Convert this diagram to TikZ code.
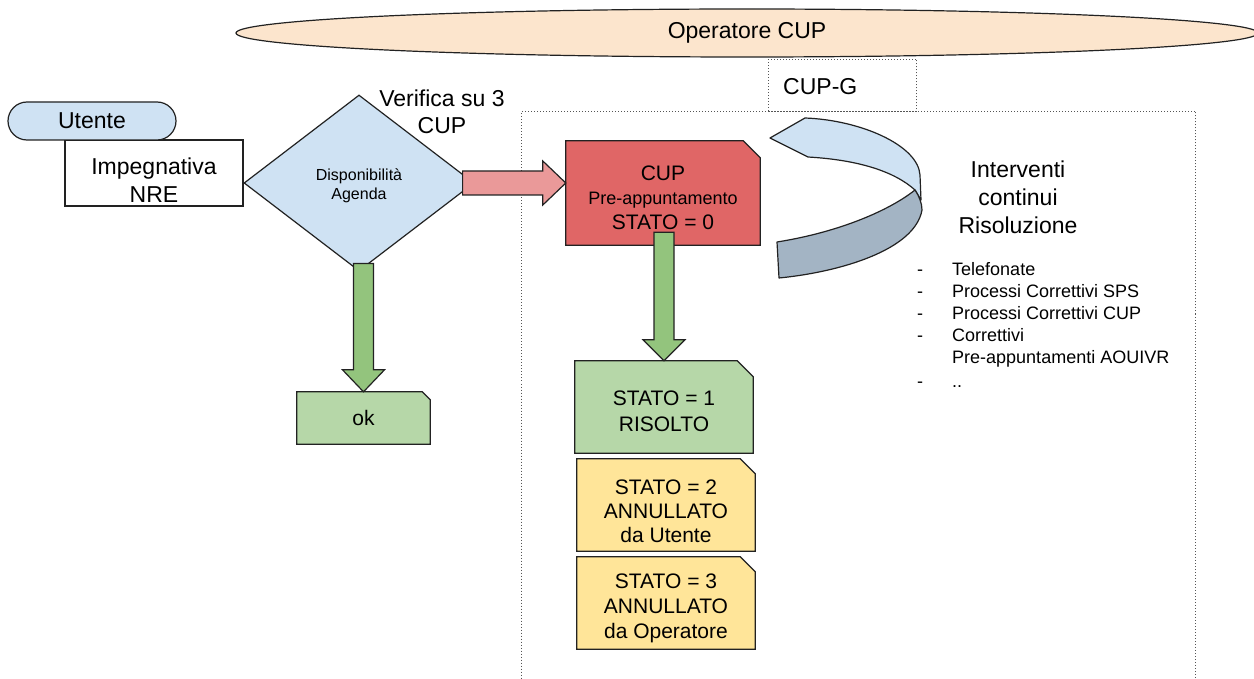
\documentclass[tikz,border=0pt]{standalone}
\usepackage{fontspec}
\setmainfont{Liberation Sans}
\usetikzlibrary{shapes.geometric,calc}
\definecolor{peach}{HTML}{FCE5CD}
\definecolor{lblue}{HTML}{CFE2F3}
\definecolor{cupred}{HTML}{E06666}
\definecolor{pinkar}{HTML}{EA9999}
\definecolor{garrow}{HTML}{93C47D}
\definecolor{gbox}{HTML}{B6D7A8}
\definecolor{ybox}{HTML}{FFE599}
\definecolor{dblue}{HTML}{A3B4C4}
\definecolor{edge}{HTML}{222222}
\definecolor{dotc}{HTML}{555555}
\newcommand\fBig{\fontsize{23}{28}\selectfont}
\newcommand\fBox{\fontsize{21}{25}\selectfont}
\newcommand\fMid{\fontsize{18}{22}\selectfont}
\newcommand\fSml{\fontsize{16}{19}\selectfont}
% name, fill, cx, cy, width, height, chamfer
\newcommand\CutBox[7]{%
  \node[minimum width=#5, minimum height=#6, inner sep=0pt] (#1) at (#3,#4) {};
  \draw[shp, fill=#2] (#1.south west) -- (#1.north west) -- ([xshift=-#7]#1.north east)
    -- ([yshift=-#7]#1.north east) -- (#1.south east) -- cycle;}
\begin{document}
\begin{tikzpicture}[x=1pt,y=-1pt,
  shp/.style={draw=edge, line width=1.2pt, line join=miter},
  plain/.style={inner sep=0pt, align=center},
  dotbox/.style={draw=dotc, line width=1pt, dash pattern=on 1pt off 2pt, inner sep=0pt, anchor=north west},
  blockar/.style={shp}]
\useasboundingbox (0,0) rectangle (1254,679);
\fill[white] (0,0) rectangle (1254,679);
\clip (0,0) rectangle (1254,679);

% top ellipse
\node[shp, ellipse, fill=peach, minimum width=1022pt, minimum height=48pt, inner sep=0pt, font=\fBig] (op) at (747,33) {Operatore CUP};

% dotted areas
\node[dotbox, minimum width=674pt, minimum height=600pt] (area) at (521,111) {};
\node[dotbox, minimum width=148pt, minimum height=52pt] (cupg) at (768,59) {};
\node[plain, font=\fBig, anchor=west] (cupgt) at (783,87) {CUP-G};

% left side
\node[shp, fill=white, minimum width=178pt, minimum height=66pt] (imp) at (154,173) {};
\node[plain, font=\fBig] (impt) at (154,180) {Impegnativa\\NRE};
\node[shp, fill=lblue, rounded corners=19pt, minimum width=168pt, minimum height=38pt, inner sep=0pt, font=\fBig] (ut) at (92,121) {Utente};

\node[shp, diamond, fill=lblue, minimum width=230pt, minimum height=176pt, inner sep=0pt] (dia) at (359,183) {};
\node[plain, font=\fSml] (diat) at (359,186) {Disponibilità\\Agenda};

\node[plain, font=\fontsize{23}{27}\selectfont] (ver) at (442,112) {Verifica su 3\\CUP};

% CUP box
\CutBox{cup}{cupred}{663}{193}{194pt}{104pt}{17pt}
\node[plain, font=\fontsize{21}{24.5}\selectfont] (cupt) at (663,197.5) {CUP\\{\fMid Pre-appuntamento}\\STATO = 0};

% pink arrow
\draw[blockar, fill=pinkar] let \p1=(dia.east), \p2=(cup.west) in
  (\x2,\y1) -- (\x2-23pt,\y1+22pt) -- (\x2-23pt,\y1+12pt) -- (\x1-12pt,\y1+12pt)
  -- (\x1-12pt,\y1-12pt) -- (\x2-23pt,\y1-12pt) -- (\x2-23pt,\y1-22pt) -- cycle;

% state boxes
\CutBox{s1}{gbox}{664}{407}{178pt}{92pt}{16pt}
\node[plain, font=\fontsize{21}{26}\selectfont] (s1t) at (664,411) {STATO = 1\\RISOLTO};
\CutBox{s2}{ybox}{666}{505}{178pt}{92pt}{15pt}
\node[plain, font=\fontsize{21}{24}\selectfont] (s2t) at (666,511) {STATO = 2\\ANNULLATO\\da Utente};
\CutBox{s3}{ybox}{666}{603}{178pt}{92pt}{15pt}
\node[plain, font=\fontsize{21}{25}\selectfont] (s3t) at (666,608) {STATO = 3\\ANNULLATO\\da Operatore};

\CutBox{ok}{gbox}{363.5}{418}{133pt}{52pt}{8pt}
\node[plain, font=\fBox] (okt) at (363.5,418) {ok};

% green arrows
\draw[blockar, fill=garrow] let \p1=(ok.north), \p2=(dia.south) in
  (\x1,\y1) -- (\x1-21pt,\y1+22pt) -- (\x1-10pt,\y1+22pt) -- (\x1-10pt,\y2+8pt)
  -- (\x1+10pt,\y2+8pt) -- (\x1+10pt,\y1+22pt) -- (\x1+21pt,\y1+22pt) -- cycle;
\draw[blockar, fill=garrow] let \p1=(s1.north), \p2=(cup.south) in
  (\x1,\y1) -- (\x1-21pt,\y1+21pt) -- (\x1-10pt,\y1+21pt) -- (\x1-10pt,\y2+13pt)
  -- (\x1+10pt,\y2+13pt) -- (\x1+10pt,\y1+21pt) -- (\x1+21pt,\y1+21pt) -- cycle;

% curved arrow
\draw[shp, fill=lblue, line join=round] (770,138) -- (805,118)
  .. controls (860,120) and (918,145) .. (920,175) -- (921,200) -- (915,190)
  .. controls (895,172) and (860,160) .. (808,157) -- cycle;
\draw[shp, fill=dblue, line join=round] (915,190)
  .. controls (919,196) and (922,203) .. (922,210)
  .. controls (915,250) and (840,272) .. (779,278) -- (777,242)
  .. controls (840,232) and (890,210) .. (915,190) -- cycle;

% right texts
\node[plain, font=\fBig] (intv) at (1018,197) {Interventi\\continui\\Risoluzione};
\node[anchor=north west, inner sep=0pt, font=\fMid] (lst) at (917,260) {%
\begin{tabular}{@{}p{35pt}@{}l@{}}
-&Telefonate\\
-&Processi Correttivi SPS\\
-&Processi Correttivi CUP\\
-&Correttivi\\
&Pre-appuntamenti AOUIVR\\[2pt]
-&..
\end{tabular}};
\end{tikzpicture}
\end{document}
